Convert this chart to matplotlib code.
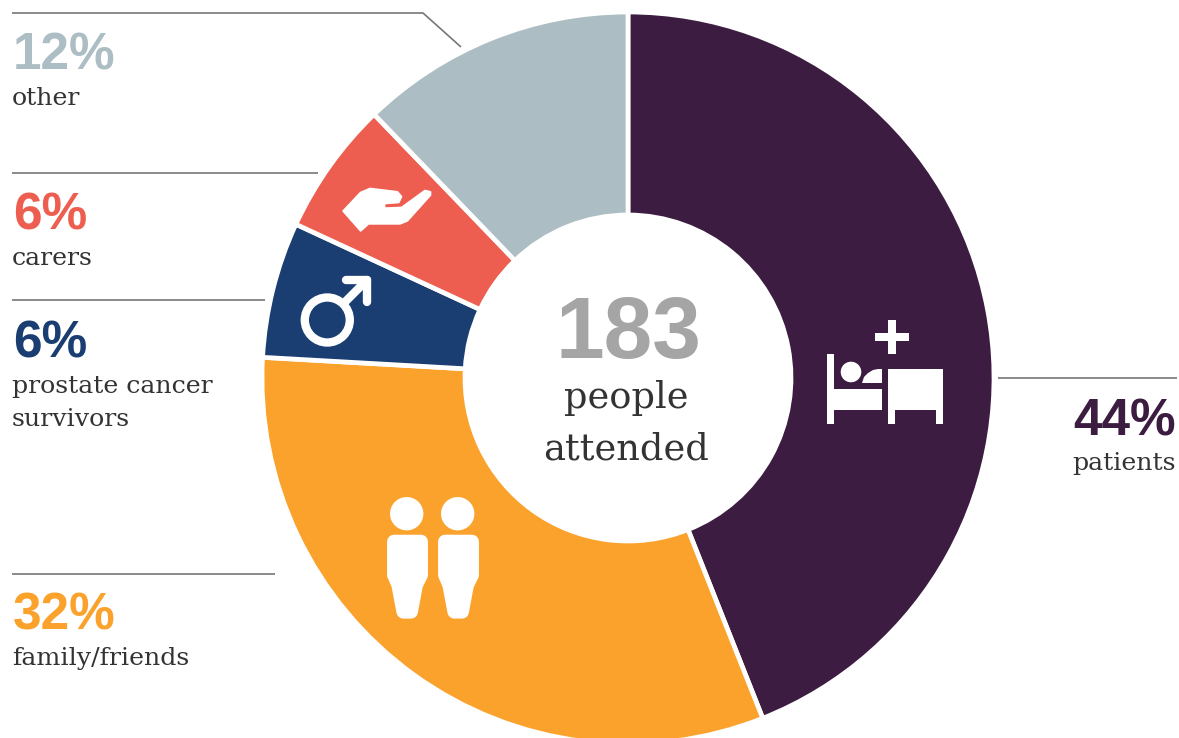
import matplotlib
matplotlib.use("Agg")
import matplotlib.pyplot as plt
from matplotlib.patches import Circle, Polygon, Rectangle

# -----------------------------
# DATA
# -----------------------------
groups = ["patients", "family/friends", "prostate cancer\nsurvivors", "carers", "other"]
labels_pct = [44, 32, 6, 6, 12]
# slice sizes
shares = [44.0, 31.9, 6.0, 5.9, 12.2]
colors = ["#3c1c40", "#faa22c", "#1a3e72", "#ee5e50", "#adbdc4"]
total_people = 183

W, H = 1179, 738
CX, CY = 628, 378
LINE = "#777777"
TEXT = "#333333"
NUM_FONT = "Liberation Sans"
LABEL_FONT = "DejaVu Serif"


def py(y):
    # picture pixels run downwards, the axes run upwards
    return H - y


def poly(ax, pts, dx=0, dy=0, scale=1.0, lw=0.0):
    pts = [(dx + x * scale, py(dy + y * scale)) for x, y in pts]
    ax.add_patch(Polygon(pts, closed=True, facecolor="white", edgecolor="white" if lw else "none",
                         lw=lw, joinstyle="round", zorder=5))


def rect(ax, x0, y0, x1, y1):
    ax.add_patch(Rectangle((x0, py(y1)), x1 - x0, y1 - y0, facecolor="white", edgecolor="none", zorder=5))


def leader(ax, xs, ys):
    ax.plot(xs, [py(y) for y in ys], color=LINE, lw=1.2, solid_capstyle="butt", zorder=3)


def label(ax, x, num_y, label_y, pct, name, color, ha="left"):
    ax.text(x + (1 if ha == "left" else 0), py(num_y), f"{pct}%", color=color, fontsize=37, fontweight="bold",
            family=NUM_FONT, ha=ha, va="baseline")
    lines = name.split("\n")
    for i, line in enumerate(lines):
        ax.text(x, py(label_y + i * 33), line, color=TEXT, fontsize=18.2,
                family=LABEL_FONT, ha=ha, va="baseline")


fig = plt.figure(figsize=(W / 100, H / 100), dpi=100)
ax = fig.add_axes([0, 0, 1, 1])

ax.pie(shares, colors=colors, startangle=90, counterclock=False, radius=366,
       center=(CX, py(CY)), frame=True,
       wedgeprops=dict(width=203, edgecolor="white", linewidth=3.4))
ax.set_xlim(0, W)
ax.set_ylim(0, H)
ax.set_aspect("equal")
ax.axis("off")

# lines
leader(ax, [12, 423, 461], [13, 13, 47])
leader(ax, [12, 318], [173, 173])
leader(ax, [12, 265], [300, 300])
leader(ax, [12, 275], [574, 574])
leader(ax, [998, 1177], [378, 378])

# labels
label(ax, 12, 70, 105, labels_pct[4], groups[4], colors[4])
label(ax, 12, 230, 265, labels_pct[3], groups[3], colors[3])
label(ax, 12, 358, 393, labels_pct[2], groups[2], colors[2])
label(ax, 12, 629, 665, labels_pct[1], groups[1], colors[1])
label(ax, 1176, 435, 470, labels_pct[0], groups[0], colors[0], ha="right")

# centre
ax.text(628, py(358), str(total_people), color="#a5a5a5", fontsize=63, fontweight="bold",
        family=NUM_FONT, ha="center", va="baseline")
ax.text(626, py(408), "people", color=TEXT, fontsize=26.5, family=LABEL_FONT, ha="center", va="baseline")
ax.text(626, py(460), "attended", color=TEXT, fontsize=26.5, family=LABEL_FONT, ha="center", va="baseline")

# bed icon
rect(ax, 888, 320, 896, 354)
rect(ax, 875, 333, 909, 341)
rect(ax, 827, 354, 834, 424)
rect(ax, 827, 389, 882, 410)
rect(ax, 888, 369, 943, 410)
rect(ax, 888, 369, 895, 424)
rect(ax, 936, 369, 943, 424)
ax.add_patch(Circle((851, py(372)), 10.3, color="white", lw=0, zorder=5))
poly(ax, [(862, 383), (864, 377), (868, 373), (873, 370), (878, 369), (882, 369), (882, 383)])

# hand icon
hand = [(160, 123), (212, 68), (240, 56), (322, 66), (334, 80), (326, 97), (283, 100),
        (283, 115), (335, 113), (405, 62), (421, 66), (421, 75), (352, 152), (330, 161),
        (235, 161), (212, 182)]
poly(ax, hand, dx=290, dy=170, scale=1 / 3, lw=1.5)

# male symbol
ax.add_patch(Circle((327.3, py(320)), 22.5, facecolor="none", edgecolor="white", lw=6, zorder=5))
for xs, ys in [([345, 367], [302, 280]), ([346, 367], [280, 280]), ([367, 367], [280, 302])]:
    ax.plot(xs, [py(y) for y in ys], color="white", lw=6, solid_capstyle="round", zorder=5)

# people icon
body = [(72, 170), (153, 170), (153, 270), (138, 300), (123, 380), (100, 380), (85, 300), (72, 270)]
for k, head_x in enumerate([406.7, 457.7]):
    ax.add_patch(Circle((head_x, py(513.7)), 16.7, color="white", lw=0, zorder=5))
    poly(ax, [(x + 153 * k, y) for x, y in body], dx=370, dy=485, scale=1 / 3, lw=10)

fig.savefig("out.png", dpi=100)
